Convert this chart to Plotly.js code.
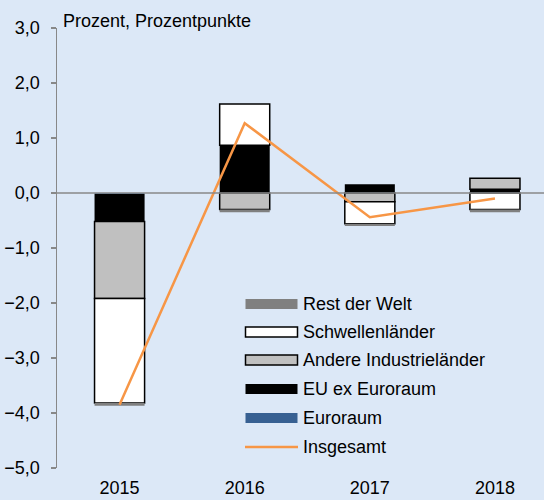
<!DOCTYPE html>
<html>
<head>
<meta charset="utf-8">
<script src="https://cdn.plot.ly/plotly-3.0.1.min.js"></script>
<style>html,body{margin:0;padding:0;background:#dce8f7;}#chart{width:544px;height:500px;}</style>
</head>
<body>
<div id="chart"></div>
<script>
// ---- data ----
var years = ['2015', '2016', '2017', '2018'];
var euroraum = [-0.02, 0.01, 0.02, 0.02];
var euExEuroraum = [-0.5, 0.86, 0.14, 0.05];
var andereIndustrielaender = [-1.4, -0.3, -0.16, 0.2];
var schwellenlaender = [-1.9, 0.75, -0.4, -0.3];
var restDerWelt = [-0.05, -0.05, -0.04, -0.05];
var insgesamt = [-3.85, 1.27, -0.44, -0.1];
var yTickVals = [-5, -4, -3, -2, -1, 0, 1, 2, 3];

var seriesNames = ['Euroraum', 'EU ex Euroraum', 'Andere Industrieländer', 'Schwellenländer', 'Rest der Welt'];
var seriesValues = [euroraum, euExEuroraum, andereIndustrielaender, schwellenlaender, restDerWelt];
var lineName = 'Insgesamt';

// ---- styles ----
var fills = ['#376092', '#000000', '#c0c0c0', '#ffffff', '#808080'];
var borders = [0, 0, 1.5, 1.5, 0];
var lineColor = '#f79646';
var bg = '#dce8f7';
var font = {family: 'Liberation Sans, Arial, sans-serif', size: 18, color: '#000000'};

var traces = seriesNames.map(function (n, i) {
  return {
    type: 'bar', name: n, x: years, y: seriesValues[i], width: 0.4,
    marker: {color: fills[i], line: {color: '#000000', width: borders[i]}},
    showlegend: false, hoverinfo: 'skip'
  };
});
traces.push({
  type: 'scatter', mode: 'lines', name: lineName, x: years, y: insgesamt,
  line: {color: lineColor, width: 2.5}, showlegend: false
});

// ---- layout geometry ----
var W = 544, H = 500, mL = 57, mR = 0, mT = 28, mB = 32;
var pw = W - mL - mR, ph = H - mT - mB;
function px(x) { return (x - mL) / pw; }
function py(y) { return (H - mB - y) / ph; }

// custom legend (top to bottom)
var legOrder = [4, 3, 2, 1, 0];
var legRowY = [304, 332, 360, 389, 418, 447];
var shapes = [];
var annotations = [];
legOrder.forEach(function (si, r) {
  var yc = legRowY[r];
  shapes.push({
    type: 'rect', xref: 'paper', yref: 'paper',
    x0: px(245.5), x1: px(297.5), y0: py(yc + 5), y1: py(yc - 5),
    fillcolor: fills[si],
    line: {color: borders[si] ? '#000000' : fills[si], width: borders[si] ? 1.5 : 0},
    layer: 'above'
  });
  annotations.push({
    xref: 'paper', yref: 'paper', x: px(301), y: py(yc), xanchor: 'left', yanchor: 'middle',
    text: seriesNames[si], showarrow: false, font: font
  });
});
shapes.push({
  type: 'line', xref: 'paper', yref: 'paper',
  x0: px(245), x1: px(298), y0: py(legRowY[5]), y1: py(legRowY[5]),
  line: {color: lineColor, width: 2.5}, layer: 'above'
});
annotations.push({
  xref: 'paper', yref: 'paper', x: px(301), y: py(legRowY[5]), xanchor: 'left', yanchor: 'middle',
  text: lineName, showarrow: false, font: font
});
// zero line across plot (above bars)
shapes.push({
  type: 'line', xref: 'paper', yref: 'y', x0: 0, x1: 1, y0: 0, y1: 0,
  line: {color: '#888888', width: 1.5}, layer: 'above'
});
// unit label
annotations.push({
  xref: 'paper', yref: 'paper', x: px(61), y: py(21), xanchor: 'left', yanchor: 'middle',
  text: 'Prozent, Prozentpunkte', showarrow: false, font: font
});

var layout = {
  width: W, height: H,
  margin: {l: mL, r: mR, t: mT, b: mB, pad: 0},
  paper_bgcolor: bg, plot_bgcolor: bg,
  font: font,
  separators: ',.',
  barmode: 'relative',
  showlegend: false,
  xaxis: {
    type: 'category', range: [-0.5, 3.392],
    showgrid: false, zeroline: false, showline: false,
    ticks: 'outside', ticklen: 3, tickcolor: 'rgba(0,0,0,0)',
    tickfont: font, fixedrange: true
  },
  yaxis: {
    range: [-5, 3], tickvals: yTickVals, tickformat: '.1f',
    showgrid: false, zeroline: false,
    showline: true, linecolor: '#888888', linewidth: 1.5,
    ticks: 'outside', ticklen: 5, tickcolor: '#888888', tickwidth: 1.5,
    ticklabelstandoff: 7,
    tickfont: font, fixedrange: true
  },
  shapes: shapes,
  annotations: annotations
};

Plotly.newPlot('chart', traces, layout, {displayModeBar: false, staticPlot: true});
</script>
</body>
</html>
